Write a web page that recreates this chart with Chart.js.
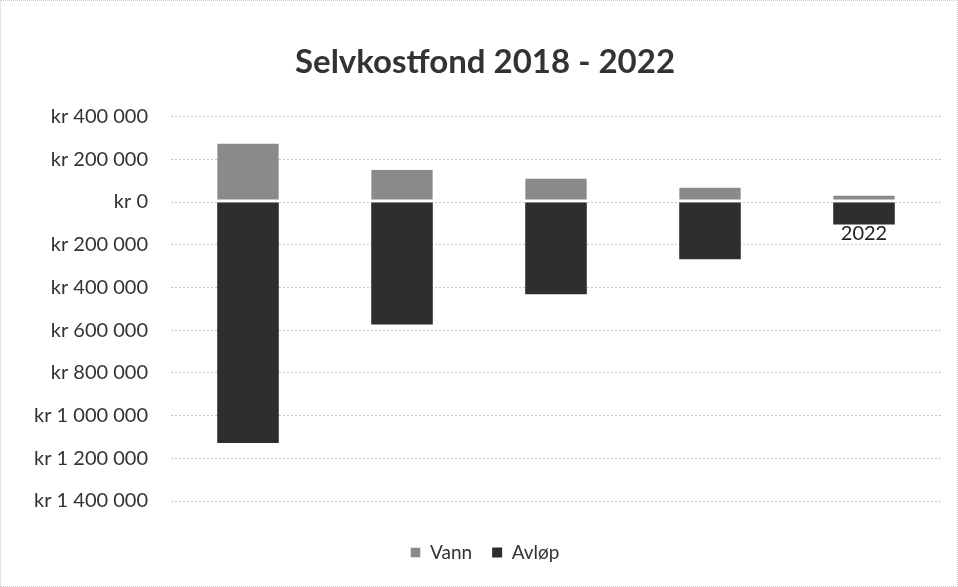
<!DOCTYPE html>
<html>
<head>
<meta charset="utf-8">
<script src="https://cdn.jsdelivr.net/npm/chart.js@4/dist/chart.umd.min.js"></script>
<style>
html,body{margin:0;padding:0;background:#fff;}
#wrap{position:relative;width:958px;height:587px;box-sizing:border-box;border:1px dotted #c8c8c8;}
</style>
</head>
<body>
<div id="wrap"><canvas id="c"></canvas></div>
<script>
const categories = ['2018', '2019', '2020', '2021', '2022'];
const vann = [274000, 151000, 110000, 68000, 31000];
const avlop = [-1128000, -573000, -432000, -268000, -105000];
const yTicks = [400000, 200000, 0, -200000, -400000, -600000, -800000, -1000000, -1200000, -1400000];

function fmt(v) {
  const a = Math.abs(v);
  return 'kr ' + String(a).replace(/\B(?=(\d{3})+(?!\d))/g, ' ');
}

new Chart(document.getElementById('c'), {
  type: 'bar',
  data: {
    labels: categories,
    datasets: [
      { label: 'Vann', data: vann, backgroundColor: '#8a8a8a', borderColor: '#ffffff', borderWidth: {top:0,left:0,right:0,bottom:2}, borderSkipped: false, barPercentage: 0.4, categoryPercentage: 1.0 },
      { label: 'Avløp', data: avlop, backgroundColor: '#2e2e2e', borderColor: '#ffffff', borderWidth: 0, barPercentage: 0.4, categoryPercentage: 1.0 }
    ]
  },
  options: {
    responsive: true,
    maintainAspectRatio: false,
    animation: false,
    layout: { padding: { left: 28, right: 16, top: 42, bottom: 14 } },
    plugins: {
      title: {
        display: true,
        text: 'Selvkostfond 2018 - 2022',
        font: { family: 'Lato', size: 33, weight: 'bold' },
        color: '#333',
        padding: { top: 0, bottom: 34 }
      },
      legend: {
        position: 'bottom',
        title: { display: true, text: '', font: { size: 10 }, padding: { top: 10, bottom: 0 } },
        labels: {
          boxWidth: 10, boxHeight: 10,
          font: { family: 'Lato', size: 19 },
          color: '#333',
          padding: 20
        }
      },
      tooltip: { enabled: false }
    },
    scales: {
      x: {
        stacked: true,
        position: { y: 0 },
        z: 1,
        grid: { display: false },
        border: { display: false },
        ticks: { font: { family: 'Lato', size: 20 }, color: '#222', padding: 12, maxRotation: 0 }
      },
      y: {
        stacked: true,
        min: -1400000,
        max: 400000,
        afterBuildTicks: (s) => { s.ticks = yTicks.map(v => ({ value: v })); },
        afterFit: (s) => { s.width = 142; },
        grid: { color: '#c8c8c8', lineWidth: 1, drawTicks: false },
        border: { display: false, dash: [2, 2] },
        ticks: {
          font: { family: 'Lato', size: 20 }, color: '#333', padding: 23,
          callback: (v) => fmt(v)
        }
      }
    }
  }
});
</script>
</body>
</html>
